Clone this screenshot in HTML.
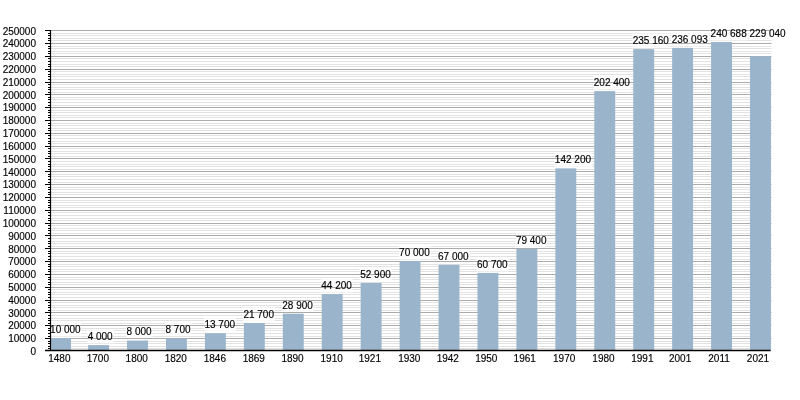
<!DOCTYPE html><html><head><meta charset="utf-8"><style>html,body{margin:0;padding:0;background:#fff;}svg{display:block;will-change:transform;}text{font-family:"Liberation Sans",sans-serif;font-size:10px;fill:#000;stroke:#000;stroke-width:0.15px;}</style></head><body>
<svg width="800" height="400" viewBox="0 0 800 400">
<path d="M51.0 348.50H771.5M51.0 346.50H771.5M51.0 343.50H771.5M51.0 341.50H771.5M51.0 336.50H771.5M51.0 333.50H771.5M51.0 330.50H771.5M51.0 328.50H771.5M51.0 323.50H771.5M51.0 320.50H771.5M51.0 318.50H771.5M51.0 315.50H771.5M51.0 310.50H771.5M51.0 307.50H771.5M51.0 305.50H771.5M51.0 302.50H771.5M51.0 297.50H771.5M51.0 294.50H771.5M51.0 292.50H771.5M51.0 289.50H771.5M51.0 284.50H771.5M51.0 282.50H771.5M51.0 279.50H771.5M51.0 277.50H771.5M51.0 271.50H771.5M51.0 269.50H771.5M51.0 266.50H771.5M51.0 264.50H771.5M51.0 259.50H771.5M51.0 256.50H771.5M51.0 253.50H771.5M51.0 251.50H771.5M51.0 246.50H771.5M51.0 243.50H771.5M51.0 241.50H771.5M51.0 238.50H771.5M51.0 233.50H771.5M51.0 230.50H771.5M51.0 228.50H771.5M51.0 225.50H771.5M51.0 220.50H771.5M51.0 218.50H771.5M51.0 215.50H771.5M51.0 212.50H771.5M51.0 207.50H771.5M51.0 205.50H771.5M51.0 202.50H771.5M51.0 200.50H771.5M51.0 194.50H771.5M51.0 192.50H771.5M51.0 189.50H771.5M51.0 187.50H771.5M51.0 182.50H771.5M51.0 179.50H771.5M51.0 176.50H771.5M51.0 174.50H771.5M51.0 169.50H771.5M51.0 166.50H771.5M51.0 164.50H771.5M51.0 161.50H771.5M51.0 156.50H771.5M51.0 153.50H771.5M51.0 151.50H771.5M51.0 148.50H771.5M51.0 143.50H771.5M51.0 141.50H771.5M51.0 138.50H771.5M51.0 135.50H771.5M51.0 130.50H771.5M51.0 128.50H771.5M51.0 125.50H771.5M51.0 123.50H771.5M51.0 117.50H771.5M51.0 115.50H771.5M51.0 112.50H771.5M51.0 110.50H771.5M51.0 105.50H771.5M51.0 102.50H771.5M51.0 99.50H771.5M51.0 97.50H771.5M51.0 92.50H771.5M51.0 89.50H771.5M51.0 87.50H771.5M51.0 84.50H771.5M51.0 79.50H771.5M51.0 76.50H771.5M51.0 74.50H771.5M51.0 71.50H771.5M51.0 66.50H771.5M51.0 64.50H771.5M51.0 61.50H771.5M51.0 58.50H771.5M51.0 53.50H771.5M51.0 51.50H771.5M51.0 48.50H771.5M51.0 46.50H771.5M51.0 40.50H771.5M51.0 38.50H771.5M51.0 35.50H771.5M51.0 33.50H771.5" stroke="#e2e2e2" stroke-width="1" fill="none"/>
<rect x="51.20" y="322.27" width="30.48" height="14.20" fill="#fff" fill-opacity="0.8"/>
<rect x="87.14" y="329.17" width="26.52" height="14.20" fill="#fff" fill-opacity="0.8"/>
<rect x="126.07" y="324.04" width="26.52" height="14.20" fill="#fff" fill-opacity="0.8"/>
<rect x="165.00" y="322.00" width="26.52" height="14.20" fill="#fff" fill-opacity="0.8"/>
<rect x="203.94" y="317.52" width="32.08" height="14.20" fill="#fff" fill-opacity="0.8"/>
<rect x="242.88" y="307.26" width="32.08" height="14.20" fill="#fff" fill-opacity="0.8"/>
<rect x="281.81" y="298.02" width="32.08" height="14.20" fill="#fff" fill-opacity="0.8"/>
<rect x="320.75" y="278.39" width="32.08" height="14.20" fill="#fff" fill-opacity="0.8"/>
<rect x="359.68" y="267.23" width="32.08" height="14.20" fill="#fff" fill-opacity="0.8"/>
<rect x="398.62" y="245.29" width="32.08" height="14.20" fill="#fff" fill-opacity="0.8"/>
<rect x="437.55" y="249.14" width="32.08" height="14.20" fill="#fff" fill-opacity="0.8"/>
<rect x="476.49" y="257.22" width="32.08" height="14.20" fill="#fff" fill-opacity="0.8"/>
<rect x="515.42" y="233.23" width="32.08" height="14.20" fill="#fff" fill-opacity="0.8"/>
<rect x="554.36" y="152.66" width="37.64" height="14.20" fill="#fff" fill-opacity="0.8"/>
<rect x="593.29" y="75.42" width="37.64" height="14.20" fill="#fff" fill-opacity="0.8"/>
<rect x="632.23" y="33.39" width="37.64" height="14.20" fill="#fff" fill-opacity="0.8"/>
<rect x="671.16" y="32.19" width="37.64" height="14.20" fill="#fff" fill-opacity="0.8"/>
<rect x="710.10" y="26.30" width="37.64" height="14.20" fill="#fff" fill-opacity="0.8"/>
<rect x="749.03" y="25.80" width="37.64" height="14.20" fill="#fff" fill-opacity="0.8"/>
<path d="M51.0 338.50H771.5M51.0 325.50H771.5M51.0 312.50H771.5M51.0 300.50H771.5M51.0 287.50H771.5M51.0 274.50H771.5M51.0 261.50H771.5M51.0 248.50H771.5M51.0 235.50H771.5M51.0 223.50H771.5M51.0 210.50H771.5M51.0 197.50H771.5M51.0 184.50H771.5M51.0 171.50H771.5M51.0 158.50H771.5M51.0 146.50H771.5M51.0 133.50H771.5M51.0 120.50H771.5M51.0 107.50H771.5M51.0 94.50H771.5M51.0 82.50H771.5M51.0 69.50H771.5M51.0 56.50H771.5M51.0 43.50H771.5M51.0 30.50H771.5" stroke="#ababab" stroke-width="1" fill="none"/>
<rect x="51.00" y="337.97" width="20.00" height="12.53" fill="#99b4cb"/>
<rect x="88.14" y="345.10" width="20.90" height="5.40" fill="#99b4cb"/>
<rect x="127.07" y="340.54" width="20.90" height="9.96" fill="#99b4cb"/>
<rect x="166.00" y="338.50" width="20.90" height="12.00" fill="#99b4cb"/>
<rect x="204.94" y="333.22" width="20.90" height="17.28" fill="#99b4cb"/>
<rect x="243.88" y="322.96" width="20.90" height="27.54" fill="#99b4cb"/>
<rect x="282.81" y="313.72" width="20.90" height="36.78" fill="#99b4cb"/>
<rect x="321.75" y="294.09" width="20.90" height="56.41" fill="#99b4cb"/>
<rect x="360.68" y="282.93" width="20.90" height="67.57" fill="#99b4cb"/>
<rect x="399.62" y="260.99" width="20.90" height="89.51" fill="#99b4cb"/>
<rect x="438.55" y="264.84" width="20.90" height="85.66" fill="#99b4cb"/>
<rect x="477.49" y="272.92" width="20.90" height="77.58" fill="#99b4cb"/>
<rect x="516.42" y="248.93" width="20.90" height="101.57" fill="#99b4cb"/>
<rect x="555.36" y="168.36" width="20.90" height="182.14" fill="#99b4cb"/>
<rect x="594.29" y="91.12" width="20.90" height="259.38" fill="#99b4cb"/>
<rect x="633.23" y="49.09" width="20.90" height="301.41" fill="#99b4cb"/>
<rect x="672.16" y="47.89" width="20.90" height="302.61" fill="#99b4cb"/>
<rect x="711.10" y="42.00" width="20.90" height="308.50" fill="#99b4cb"/>
<rect x="750.03" y="56.30" width="20.90" height="294.20" fill="#99b4cb"/>
<path d="M48 348.50H51M48 346.50H51M48 343.50H51M48 341.50H51M45 338.50H51M48 336.50H51M48 333.50H51M48 330.50H51M48 328.50H51M45 325.50H51M48 323.50H51M48 320.50H51M48 318.50H51M48 315.50H51M45 312.50H51M48 310.50H51M48 307.50H51M48 305.50H51M48 302.50H51M45 300.50H51M48 297.50H51M48 294.50H51M48 292.50H51M48 289.50H51M45 287.50H51M48 284.50H51M48 282.50H51M48 279.50H51M48 277.50H51M45 274.50H51M48 271.50H51M48 269.50H51M48 266.50H51M48 264.50H51M45 261.50H51M48 259.50H51M48 256.50H51M48 253.50H51M48 251.50H51M45 248.50H51M48 246.50H51M48 243.50H51M48 241.50H51M48 238.50H51M45 235.50H51M48 233.50H51M48 230.50H51M48 228.50H51M48 225.50H51M45 223.50H51M48 220.50H51M48 218.50H51M48 215.50H51M48 212.50H51M45 210.50H51M48 207.50H51M48 205.50H51M48 202.50H51M48 200.50H51M45 197.50H51M48 194.50H51M48 192.50H51M48 189.50H51M48 187.50H51M45 184.50H51M48 182.50H51M48 179.50H51M48 176.50H51M48 174.50H51M45 171.50H51M48 169.50H51M48 166.50H51M48 164.50H51M48 161.50H51M45 158.50H51M48 156.50H51M48 153.50H51M48 151.50H51M48 148.50H51M45 146.50H51M48 143.50H51M48 141.50H51M48 138.50H51M48 135.50H51M45 133.50H51M48 130.50H51M48 128.50H51M48 125.50H51M48 123.50H51M45 120.50H51M48 117.50H51M48 115.50H51M48 112.50H51M48 110.50H51M45 107.50H51M48 105.50H51M48 102.50H51M48 99.50H51M48 97.50H51M45 94.50H51M48 92.50H51M48 89.50H51M48 87.50H51M48 84.50H51M45 82.50H51M48 79.50H51M48 76.50H51M48 74.50H51M48 71.50H51M45 69.50H51M48 66.50H51M48 64.50H51M48 61.50H51M48 58.50H51M45 56.50H51M48 53.50H51M48 51.50H51M48 48.50H51M48 46.50H51M45 43.50H51M48 40.50H51M48 38.50H51M48 35.50H51M48 33.50H51M45 30.50H51" stroke="#000" stroke-width="1" fill="none"/>
<path d="M50.5 30V351" stroke="#000" stroke-width="1.2" fill="none"/>
<path d="M45 350.6H770.6" stroke="#000" stroke-width="1.5" fill="none"/>
<text x="36" y="354.80" text-anchor="end">0</text>
<text x="36" y="342.30" text-anchor="end">10000</text>
<text x="36" y="329.47" text-anchor="end">20000</text>
<text x="36" y="316.64" text-anchor="end">30000</text>
<text x="36" y="303.81" text-anchor="end">40000</text>
<text x="36" y="290.99" text-anchor="end">50000</text>
<text x="36" y="278.16" text-anchor="end">60000</text>
<text x="36" y="265.33" text-anchor="end">70000</text>
<text x="36" y="252.50" text-anchor="end">80000</text>
<text x="36" y="239.67" text-anchor="end">90000</text>
<text x="36" y="226.84" text-anchor="end">100000</text>
<text x="36" y="214.01" text-anchor="end">110000</text>
<text x="36" y="201.18" text-anchor="end">120000</text>
<text x="36" y="188.35" text-anchor="end">130000</text>
<text x="36" y="175.52" text-anchor="end">140000</text>
<text x="36" y="162.70" text-anchor="end">150000</text>
<text x="36" y="149.87" text-anchor="end">160000</text>
<text x="36" y="137.04" text-anchor="end">170000</text>
<text x="36" y="124.21" text-anchor="end">180000</text>
<text x="36" y="111.38" text-anchor="end">190000</text>
<text x="36" y="98.55" text-anchor="end">200000</text>
<text x="36" y="85.72" text-anchor="end">210000</text>
<text x="36" y="72.89" text-anchor="end">220000</text>
<text x="36" y="60.06" text-anchor="end">230000</text>
<text x="36" y="47.23" text-anchor="end">240000</text>
<text x="36" y="34.90" text-anchor="end">250000</text>
<text x="50.10" y="332.97">10 000</text>
<text x="87.64" y="339.87">4 000</text>
<text x="126.57" y="334.74">8 000</text>
<text x="165.50" y="332.70">8 700</text>
<text x="204.44" y="328.22">13 700</text>
<text x="243.38" y="317.96">21 700</text>
<text x="282.31" y="308.72">28 900</text>
<text x="321.25" y="289.09">44 200</text>
<text x="360.18" y="277.93">52 900</text>
<text x="399.12" y="255.99">70 000</text>
<text x="438.05" y="259.84">67 000</text>
<text x="476.99" y="267.92">60 700</text>
<text x="515.92" y="243.93">79 400</text>
<text x="554.86" y="163.36">142 200</text>
<text x="593.79" y="86.12">202 400</text>
<text x="632.73" y="44.09">235 160</text>
<text x="671.66" y="42.89">236 093</text>
<text x="710.60" y="37.00">240 688</text>
<text x="749.53" y="36.50">229 040</text>
<text x="59.37" y="361.8" text-anchor="middle">1480</text>
<text x="97.84" y="361.8" text-anchor="middle">1700</text>
<text x="136.72" y="361.8" text-anchor="middle">1800</text>
<text x="175.80" y="361.8" text-anchor="middle">1820</text>
<text x="214.84" y="361.8" text-anchor="middle">1846</text>
<text x="253.82" y="361.8" text-anchor="middle">1869</text>
<text x="292.51" y="361.8" text-anchor="middle">1890</text>
<text x="331.69" y="361.8" text-anchor="middle">1910</text>
<text x="369.88" y="361.8" text-anchor="middle">1921</text>
<text x="409.31" y="361.8" text-anchor="middle">1930</text>
<text x="447.75" y="361.8" text-anchor="middle">1942</text>
<text x="486.29" y="361.8" text-anchor="middle">1950</text>
<text x="524.72" y="361.8" text-anchor="middle">1961</text>
<text x="564.16" y="361.8" text-anchor="middle">1970</text>
<text x="603.49" y="361.8" text-anchor="middle">1980</text>
<text x="642.38" y="361.8" text-anchor="middle">1991</text>
<text x="680.11" y="361.8" text-anchor="middle">2001</text>
<text x="719.05" y="361.8" text-anchor="middle">2011</text>
<text x="757.98" y="361.8" text-anchor="middle">2021</text>
</svg></body></html>
